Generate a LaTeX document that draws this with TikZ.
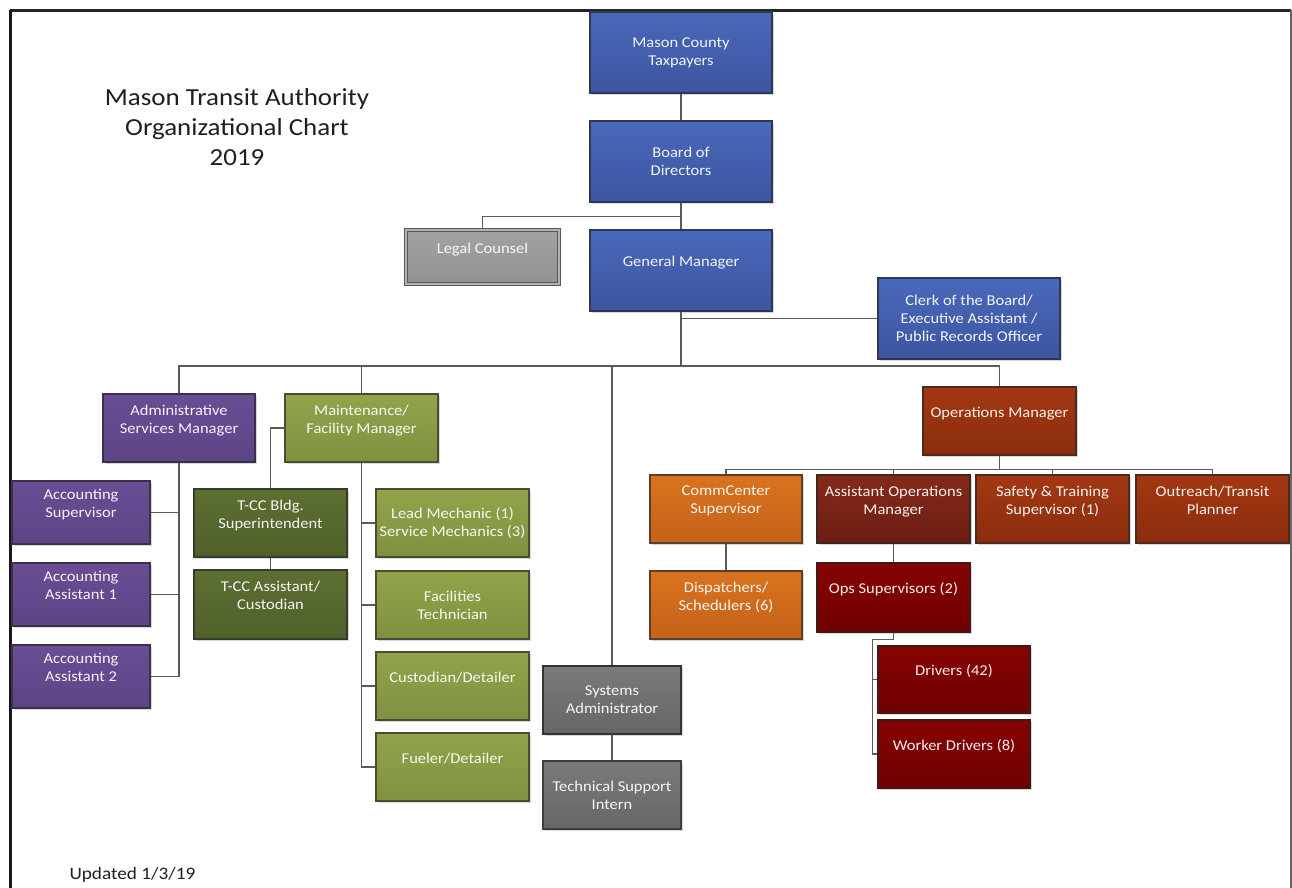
\documentclass[tikz,border=0pt]{standalone}
\usepackage{fontspec}
\setmainfont{Carlito}[FakeStretch=1.1]
\usetikzlibrary{shadows}
\definecolor{blueT}{HTML}{4A68BA}\definecolor{blueB}{HTML}{3C55A0}
\definecolor{grayT}{HTML}{A2A2A2}\definecolor{grayB}{HTML}{929292}
\definecolor{purT}{HTML}{6A4D94}\definecolor{purB}{HTML}{5C4486}
\definecolor{lgrT}{HTML}{91A44A}\definecolor{lgrB}{HTML}{7F9140}
\definecolor{dgrT}{HTML}{5D6F32}\definecolor{dgrB}{HTML}{50602A}
\definecolor{orT}{HTML}{D9731F}\definecolor{orB}{HTML}{C3621A}
\definecolor{brT}{HTML}{842A1A}\definecolor{brB}{HTML}{6C1D12}
\definecolor{ruT}{HTML}{A33812}\definecolor{ruB}{HTML}{8A2D0E}
\definecolor{rdT}{HTML}{860303}\definecolor{rdB}{HTML}{700000}
\definecolor{sgT}{HTML}{7A7A7A}\definecolor{sgB}{HTML}{666666}
\definecolor{conn}{HTML}{5A5A5A}
\begin{document}
\begin{tikzpicture}[x=1pt,y=-1pt,
  org/.style 2 args={top color=#1, bottom color=#2, draw=#2!45!black!80!gray,
    line width=1.5pt, text=white!93!#1, align=center,
    font=\fontsize{15}{18}\selectfont, inner sep=0pt,
    drop shadow={shadow xshift=2pt, shadow yshift=-2pt, opacity=0.3}},
  sz/.style 2 args={minimum width=#1pt, minimum height=#2pt},
  link/.style={draw=conn, line width=1.3pt}]
\useasboundingbox (0,0) rectangle (1292,888);
\fill[white] (0,0) rectangle (1292,888);
% frame
\draw[line width=3pt, black!85] (10,10.5) -- (1291,10.5);
\draw[line width=2.5pt, black!90] (10.5,10) -- (10.5,888);
\draw[line width=2pt, black!60] (1290.5,10) -- (1290.5,888);

% title
\node[font=\fontsize{24.5}{30}\selectfont, text=black!88, align=center] (title) at (237,127.5)
  {Mason Transit Authority\\Organizational Chart\\2019};
\node[font=\fontsize{17.5}{20}\selectfont, text=black!88, anchor=west] (upd) at (66,875) {Updated 1/3/19};

% top level
\node[org={blueT}{blueB}, sz={182}{81}] (tax) at (681,52.5) {Mason County\\Taxpayers};
\node[org={blueT}{blueB}, sz={182}{81}] (board) at (681,161.5) {Board of\\Directors};
\node[org={blueT}{blueB}, sz={182}{81}] (gm) at (681,270.5) {General Manager\\\mbox{}};
\node[org={grayT}{grayB}, sz={153}{54}, draw=black!65, double=black!30, double distance=1.6pt] (legal) at (482.5,257) {Legal Counsel\\\mbox{}};
\node[org={blueT}{blueB}, sz={182}{81}] (clerk) at (969,318.5) {Clerk of the Board/\\Executive Assistant /\\Public Records Officer};

% administrative
\node[org={purT}{purB}, sz={152}{68}] (admin) at (179,428) {Administrative\\Services Manager\\\mbox{}};
\node[org={purT}{purB}, sz={138}{63}] (accsup) at (81,512.5) {Accounting\\Supervisor\\\mbox{}};
\node[org={purT}{purB}, sz={138}{63}] (acc1) at (81,594.5) {Accounting\\Assistant 1\\\mbox{}};
\node[org={purT}{purB}, sz={138}{63}] (acc2) at (81,676.5) {Accounting\\Assistant 2\\\mbox{}};

% maintenance
\node[org={lgrT}{lgrB}, sz={153}{68}] (maint) at (361.5,428) {Maintenance/\\Facility Manager\\\mbox{}};
\node[org={dgrT}{dgrB}, sz={153}{68}] (tccb) at (270.5,523) {T-CC Bldg.\\Superintendent\\\mbox{}};
\node[org={dgrT}{dgrB}, sz={153}{69}] (tcca) at (270.5,604.5) {T-CC Assistant/\\Custodian\\\mbox{}};
\node[org={lgrT}{lgrB}, sz={153}{68}] (lead) at (452.5,523) {Lead Mechanic (1)\\Service Mechanics (3)};
\node[org={lgrT}{lgrB}, sz={153}{68}] (fac) at (452.5,605) {Facilities\\Technician};
\node[org={lgrT}{lgrB}, sz={153}{68}] (cust) at (452.5,686) {Custodian/Detailer\\\mbox{}};
\node[org={lgrT}{lgrB}, sz={153}{68}] (fuel) at (452.5,767) {Fueler/Detailer\\\mbox{}};

% systems
\node[org={sgT}{sgB}, sz={138}{68}, draw=black!80] (sys) at (612,700) {Systems\\Administrator};
\node[org={sgT}{sgB}, sz={138}{68}] (tech) at (612,795) {Technical Support\\Intern};

% operations
\node[org={ruT}{ruB}, sz={153}{68}] (ops) at (999.5,421) {Operations Manager\\\mbox{}};
\node[org={orT}{orB}, sz={152}{68}] (comm) at (726,509) {CommCenter\\Supervisor\\\mbox{}};
\node[org={brT}{brB}, sz={153}{68}] (aops) at (893.5,509) {Assistant Operations\\Manager\\\mbox{}};
\node[org={ruT}{ruB}, sz={153}{68}] (safe) at (1052.5,509) {Safety \& Training\\Supervisor (1)\\\mbox{}};
\node[org={ruT}{ruB}, sz={153}{68}] (outr) at (1212.5,509) {Outreach/Transit\\Planner\\\mbox{}};
\node[org={orT}{orB}, sz={152}{68}] (disp) at (726,605) {Dispatchers/\\Schedulers (6)\\\mbox{}};
\node[org={rdT}{rdB}, sz={153}{69}] (opssup) at (893.5,597.5) {Ops Supervisors (2)\\\mbox{}};
\node[org={rdT}{rdB}, sz={152}{67}] (drv) at (954,679.5) {Drivers (42)\\\mbox{}};
\node[org={rdT}{rdB}, sz={152}{68}] (wdrv) at (954,754) {Worker Drivers (8)\\\mbox{}};

% connectors
\coordinate (busc) at (681,366);
\path[link] (tax.south) -- (board.north);
\path[link] (board.south) -- (gm.north);
\path[link] (board.south) -- ++(0,14) -| (legal.north);
\path[link] (gm.south) |- (clerk.west);
\path[link] (gm.south) -- (busc);
\path[link] (admin.north) |- (ops.north |- busc) -- (ops.north);
\path[link] (maint.north) -- (maint.north |- busc);
\path[link] (sys.north) -- (sys.north |- busc);
\path[link] (sys.south) -- (tech.north);
% admin
\path[link] (admin.south) |- (acc2.east);
\path[link] (accsup.east) -- (accsup.east -| admin.south);
\path[link] (acc1.east) -- (acc1.east -| admin.south);
% maintenance
\path[link] (maint.west) -| (tccb.north);
\path[link] (tccb.south) -- (tcca.north);
\path[link] (maint.south) |- (fuel.west);
\path[link] (lead.west) -- (lead.west -| maint.south);
\path[link] (fac.west) -- (fac.west -| maint.south);
\path[link] (cust.west) -- (cust.west -| maint.south);
% operations
\path[link] (ops.south) -- ++(0,14) coordinate (obus);
\path[link] (comm.north) |- (outr.north |- obus) -- (outr.north);
\path[link] (aops.north) -- (aops.north |- obus);
\path[link] (safe.north) -- (safe.north |- obus);
\path[link] (comm.south) -- (disp.north);
\path[link] (aops.south) -- (opssup.north);
\path[link] (opssup.south) -- ++(0,7) -| ([xshift=-5pt]wdrv.west) -- (wdrv.west);
\path[link] (drv.west) -- ++(-5,0);
\end{tikzpicture}
\end{document}
